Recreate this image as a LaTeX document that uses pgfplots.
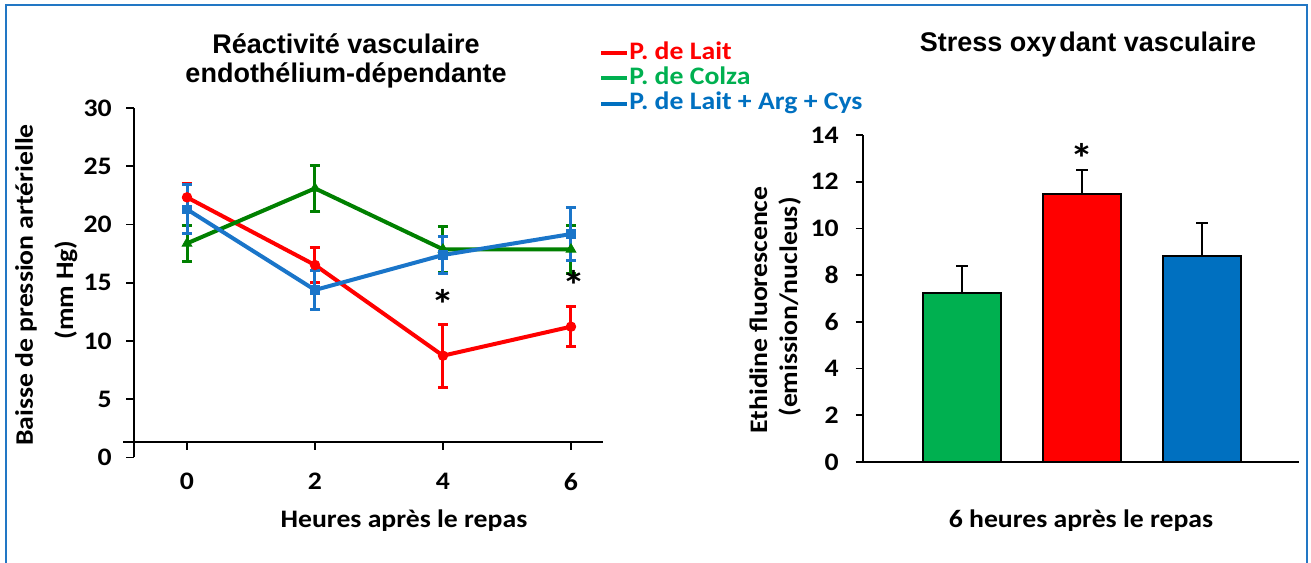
\documentclass[border=0pt]{standalone}
\usepackage{pgfplots}
\pgfplotsset{compat=1.18}
\usepackage{fontspec}
\setmainfont{Carlito}[FakeStretch=1.1]
\newfontfamily\arialb{Liberation Sans}
\definecolor{cRed}{HTML}{FF0000}
\definecolor{cGreenL}{HTML}{008000}
\definecolor{cGreen}{HTML}{00B050}
\definecolor{cBlue}{HTML}{0070C0}
\definecolor{cBlueL}{HTML}{1A75C9}
\definecolor{cFrame}{HTML}{2277C4}
\newcommand\calf{\fontsize{12.6}{15}\selectfont\bfseries}
\newcommand\astf{\fontsize{21}{21}\selectfont\bfseries}
\newcommand\ttl{\arialb\bfseries\fontsize{13.5}{16}\selectfont}
\begin{document}
\begin{tikzpicture}[x=0.5pt,y=0.5pt]
\useasboundingbox (0,0) rectangle (1311,562);
\draw[cFrame, line width=1.3pt] (6,-5) -- (6,557) -- (1307,557) -- (1307,-5);

% ---------------- left chart ----------------
\begin{axis}[
  at={(61.5pt,52.25pt)}, anchor=south west, scale only axis,
  width=240pt, height=174.75pt,
  xmin=-1, xmax=6.5, ymin=0, ymax=30,
  axis line style={draw=none},
  tick style={draw=none},
  xtick={0,2,4,6}, ytick={0,5,...,30},
  clip=false,
  tick label style={font=\calf},
  /pgf/number format/assume math mode=true,
  yticklabel style={inner sep=0pt, anchor=east, xshift=-5.5pt},
  xticklabel style={inner sep=0pt, anchor=north, yshift=-7.75pt},
]
\draw[line width=0.9pt] (axis cs:-0.83,0) -- (axis cs:-0.83,30);
\draw[line width=0.9pt] (axis cs:-1,1.33) -- (axis cs:6.5,1.33);
\pgfplotsinvokeforeach{0,5,10,15,20,25,30}{\draw[line width=0.9pt] (axis cs:-0.83,#1) -- ([xshift=-4pt]axis cs:-0.83,#1);}
\pgfplotsinvokeforeach{0,2,4,6}{\draw[line width=0.9pt] (axis cs:#1,1.33) -- ([yshift=-4pt]axis cs:#1,1.33);}

\addplot[cRed, line width=2pt, mark=*, mark size=2.4pt, mark options={line width=0.4pt},
  error bars/.cd, y dir=both, y explicit,
  error bar style={cRed, line width=1.5pt},
  error mark options={cRed, rotate=90, mark size=2.6pt, line width=1.5pt}]
  coordinates {(0,22.33) +- (0,1.15) (2,16.52) +- (0,1.5) (4,8.74) +- (0,2.7) (6,11.23) +- (0,1.7)};
\addplot[cGreenL, line width=2pt, mark=triangle*, mark size=2.8pt, mark options={line width=0.4pt},
  error bars/.cd, y dir=both, y explicit,
  error bar style={cGreenL, line width=1.5pt},
  error mark options={cGreenL, rotate=90, mark size=2.6pt, line width=1.5pt}]
  coordinates {(0,18.38) +- (0,1.55) (2,23.1) +- (0,1.95) (4,17.87) +- (0,2.0) (6,17.87) +- (0,2.05)};
\addplot[cBlueL, line width=2pt, mark=square*, mark size=2.2pt, mark options={line width=0.4pt},
  error bars/.cd, y dir=both, y explicit,
  error bar style={cBlueL, line width=1.5pt},
  error mark options={cBlueL, rotate=90, mark size=2.6pt, line width=1.5pt}]
  coordinates {(0,21.3) +- (0,2.1) (2,14.38) +- (0,1.7) (4,17.38) +- (0,1.55) (6,19.18) +- (0,2.3)};

\node[font=\astf, inner sep=0pt, yshift=-3pt] at (axis cs:4,13.66) {*};
\node[font=\astf, inner sep=0pt, yshift=-3pt] at (axis cs:6.05,15.3) {*};
\end{axis}

% ---------------- right chart ----------------
\begin{axis}[
  at={(431.5pt,50pt)}, anchor=south west, scale only axis,
  width=218pt, height=163.5pt,
  xmin=0.175, xmax=3.808, ymin=0, ymax=14,
  axis x line*=bottom, axis y line*=left,
  axis line style={line width=0.9pt, black},
  xtick=\empty, ytick={0,2,...,14},
  tick align=outside, major tick length=3.75pt,
  tick style={line width=0.9pt, black},
  ybar, bar width=39pt,
  clip=false,
  tick label style={font=\calf},
  /pgf/number format/assume math mode=true,
  yticklabel style={inner sep=0pt, anchor=east, xshift=-8.25pt},
]
\addplot[bar shift=0pt, fill=cGreen, draw=black, line width=1pt,
  error bars/.cd, y dir=plus, y explicit,
  error bar style={black, line width=0.9pt},
  error mark options={black, rotate=90, mark size=3pt, line width=0.9pt}]
  coordinates {(1,7.22) +- (0,1.18)};
\addplot[bar shift=0pt, fill=cRed, draw=black, line width=1pt,
  error bars/.cd, y dir=plus, y explicit,
  error bar style={black, line width=0.9pt},
  error mark options={black, rotate=90, mark size=3pt, line width=0.9pt}]
  coordinates {(2,11.47) +- (0,1.03)};
\addplot[bar shift=0pt, fill=cBlue, draw=black, line width=1pt,
  error bars/.cd, y dir=plus, y explicit,
  error bar style={black, line width=0.9pt},
  error mark options={black, rotate=90, mark size=3pt, line width=0.9pt}]
  coordinates {(3,8.82) +- (0,1.41)};
\node[font=\astf, inner sep=0pt, yshift=-3pt] at (axis cs:2,13.25) {*};
\end{axis}

% ---------------- titles and labels ----------------
\node[anchor=base, font=\ttl, inner sep=0pt] at (346,508) {Réactivité vasculaire};
\node[anchor=base, font=\ttl, inner sep=0pt] at (346,479) {endothélium-dépendante};
\node[anchor=base, font=\ttl, inner sep=0pt] at (1088,510) {Stress oxy\kern1.5pt dant vasculaire};

\node[anchor=base, font=\calf, inner sep=0pt] at (404,34) {Heures après le repas};
\node[anchor=base, font=\calf, inner sep=0pt] at (1081,34) {6 heures après le repas};

\node[rotate=90, anchor=base, font=\calf, inner sep=0pt] at (33,277) {Baisse de pression artérielle};
\node[rotate=90, anchor=base, font=\calf, inner sep=0pt] at (73,272) {(mm Hg)};
\node[rotate=90, anchor=base, font=\calf, inner sep=0pt] at (767,252) {Ethidine fluorescence};
\node[rotate=90, anchor=base, font=\calf, inner sep=0pt] at (797,255) {(emission/nucleus)};

% ---------------- legend ----------------
\draw[cRed, line width=2.2pt] (601,509) -- (627,509);
\node[anchor=base west, inner sep=0pt, font=\calf, text=cRed] at (629,502) {P. de Lait};
\draw[cGreen, line width=2.2pt] (601,484) -- (627,484);
\node[anchor=base west, inner sep=0pt, font=\calf, text=cGreen] at (629,477) {P. de Colza};
\draw[cBlue, line width=2.2pt] (601,458) -- (627,458);
\node[anchor=base west, inner sep=0pt, font=\calf, text=cBlue] at (629,452) {P. de Lait + Arg + Cys};
\end{tikzpicture}
\end{document}
